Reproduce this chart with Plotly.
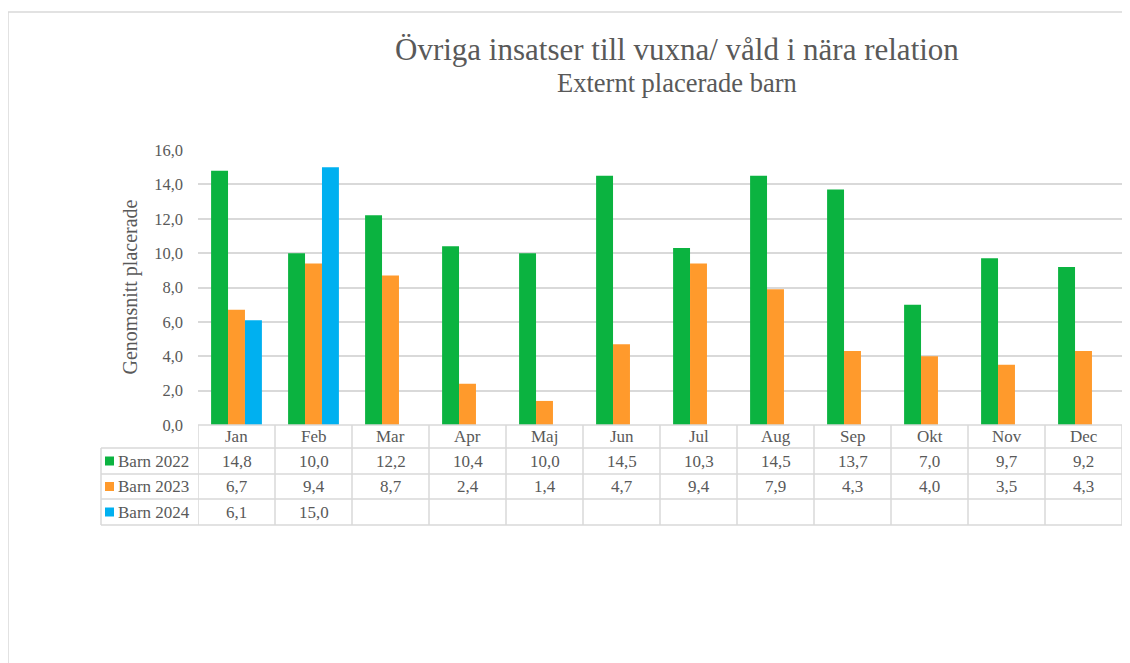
import plotly.graph_objects as go

months = ["Jan", "Feb", "Mar", "Apr", "Maj", "Jun", "Jul", "Aug", "Sep", "Okt", "Nov", "Dec"]
series_names = ["Barn 2022", "Barn 2023", "Barn 2024"]
barn_2022 = [14.8, 10.0, 12.2, 10.4, 10.0, 14.5, 10.3, 14.5, 13.7, 7.0, 9.7, 9.2]
barn_2023 = [6.7, 9.4, 8.7, 2.4, 1.4, 4.7, 9.4, 7.9, 4.3, 4.0, 3.5, 4.3]
barn_2024 = [6.1, 15.0, None, None, None, None, None, None, None, None, None, None]
colors = ["#0BB340", "#FF9A2C", "#00B0F0"]

title = "Övriga insatser till vuxna/ våld i nära relation"
subtitle = "Externt placerade barn"
y_title = "Genomsnitt placerade"

# page body has an 8px margin: figure origin sits at page (8, 8)
OFF = 8
W, H = 1130 - OFF, 663 - OFF
# plot area in page pixels: x 198..1122, y 150..425
L, R, T, B = 198 - OFF, (1130 - OFF) - (1122 - OFF), 150 - OFF, (663 - OFF) - (425 - OFF)
pw, ph = W - L - R, H - T - B


def px(x):
    # page pixel x -> paper
    return (x - OFF - L) / pw


def py(y):
    # page pixel y -> paper
    return (H - B - (y - OFF)) / ph


FONT = "Liberation Serif"
TXT = "#595959"
GRID = "#D9D9D9"

fig = go.Figure()
all_series = [barn_2022, barn_2023, barn_2024]
for name, vals, c in zip(series_names, all_series, colors):
    fig.add_trace(go.Bar(x=months, y=vals, name=name, marker=dict(color=c, line=dict(width=0)),
                         showlegend=False))

shapes = []
annotations = []

# Chart border (top and left)
shapes.append(dict(type="line", xref="paper", yref="paper", x0=px(8), x1=px(1140), y0=py(12), y1=py(12),
                   line=dict(color="#D9D9D9", width=1.5)))
shapes.append(dict(type="line", xref="paper", yref="paper", x0=px(8), x1=px(8), y0=py(12), y1=py(670),
                   line=dict(color="#D9D9D9", width=1.5)))

# Table geometry (page pixel rows)
row_edges = [425, 448, 474, 499, 525]
leg_left = 101
shapes.append(dict(type="line", xref="paper", yref="paper", x0=0, x1=1, y0=py(row_edges[0]), y1=py(row_edges[0]),
                   line=dict(color=GRID, width=1.5)))
for ye in row_edges[1:]:
    shapes.append(dict(type="line", xref="paper", yref="paper", x0=px(leg_left), x1=1, y0=py(ye), y1=py(ye),
                       line=dict(color=GRID, width=1.5)))
for i in range(len(months) + 1):
    shapes.append(dict(type="line", xref="x", yref="paper", x0=i - 0.5, x1=i - 0.5,
                       y0=py(row_edges[0]), y1=py(row_edges[-1]), line=dict(color=GRID, width=1.5)))
shapes.append(dict(type="line", xref="paper", yref="paper", x0=px(leg_left), x1=px(leg_left),
                   y0=py(row_edges[1]), y1=py(row_edges[-1]), line=dict(color=GRID, width=1.5)))

TS = 17
# header row (months)
hc = (row_edges[0] + row_edges[1]) / 2
for i, m in enumerate(months):
    annotations.append(dict(x=i, y=py(hc), xref="x", yref="paper", text=m, showarrow=False,
                            xanchor="center", yanchor="middle",
                            font=dict(family=FONT, size=TS, color=TXT)))

# data rows
for r, (name, vals, c) in enumerate(zip(series_names, all_series, colors)):
    yc = (row_edges[r + 1] + row_edges[r + 2]) / 2
    shapes.append(dict(type="rect", xref="paper", yref="paper", x0=px(105), x1=px(114),
                       y0=py(yc - 4.5), y1=py(yc + 4.5), fillcolor=c, line=dict(width=0)))
    annotations.append(dict(x=px(116), y=py(yc), xref="paper", yref="paper", text=name, showarrow=False,
                            xanchor="left", yanchor="middle", font=dict(family=FONT, size=TS, color=TXT)))
    for i, v in enumerate(vals):
        if v is None:
            continue
        annotations.append(dict(x=i, y=py(yc), xref="x", yref="paper",
                                text=f"{v:.1f}".replace(".", ","), showarrow=False,
                                xanchor="center", yanchor="middle",
                                font=dict(family=FONT, size=TS, color=TXT)))

# Titles
annotations.append(dict(x=px(677), y=py(49), xref="paper", yref="paper", text=title, showarrow=False,
                        xanchor="center", yanchor="middle", font=dict(family=FONT, size=31, color=TXT)))
annotations.append(dict(x=px(677), y=py(83), xref="paper", yref="paper", text=subtitle, showarrow=False,
                        xanchor="center", yanchor="middle", font=dict(family=FONT, size=26.5, color=TXT)))
annotations.append(dict(x=px(130), y=0.5, xref="paper", yref="paper", text=y_title, showarrow=False,
                        xanchor="center", yanchor="middle",
                        textangle=-90, font=dict(family=FONT, size=20, color=TXT)))

fig.update_layout(
    width=W, height=H,
    margin=dict(l=L, r=R, t=T, b=B),
    paper_bgcolor="white", plot_bgcolor="white",
    barmode="group", bargap=0.34, bargroupgap=0,
    separators=", ",
    shapes=shapes, annotations=annotations,
    font=dict(family=FONT, color=TXT),
)
fig.update_xaxes(range=[-0.5, 11.5], showticklabels=False, showgrid=False, showline=False, zeroline=False,
                 ticks="")
fig.update_yaxes(range=[0, 16], dtick=2, tickformat=".1f", showgrid=True, gridcolor=GRID, gridwidth=1.5,
                 zeroline=False, showline=False, ticklabelstandoff=14,
                 tickfont=dict(family=FONT, size=16.5, color=TXT))

fig.write_html("out.html")
